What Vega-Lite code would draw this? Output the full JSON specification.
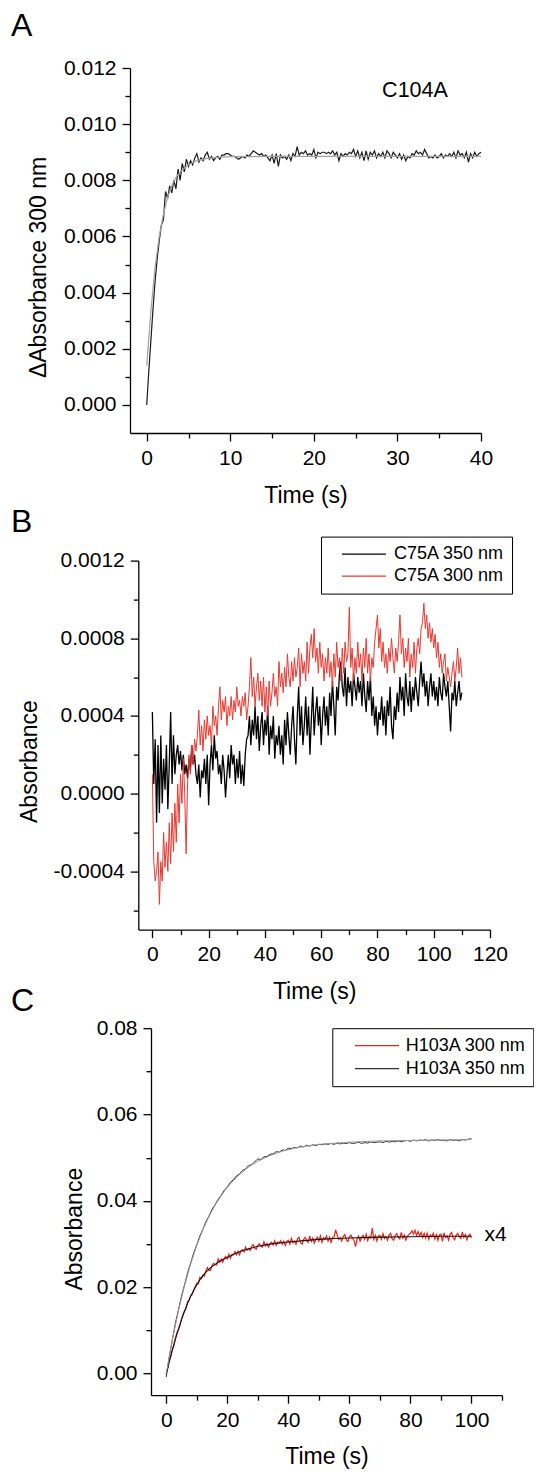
{
  "$schema": "https://vega.github.io/schema/vega-lite/v6.json",
  "background": "white",
  "padding": {"left": 11, "top": 10, "right": 0, "bottom": 0},
  "spacing": -18.4,
  "resolve": {"scale": {"color": "independent"}, "legend": {"color": "independent"}},
  "config": {
    "view": {"stroke": null},
    "font": "Liberation Sans",
    "axis": {"grid": false, "domainColor": "#000", "domainWidth": 1.3, "tickColor": "#000", "tickWidth": 1.3, "tickSize": 8, "labelPadding": 6, "labelFontSize": 21, "labelColor": "#000", "labelFont": "Liberation Sans", "titleFont": "Liberation Sans", "titleFontSize": 23, "titleFontWeight": "normal", "titleColor": "#000", "labelFlush": false, "labelOverlap": false},
    "title": {"fontSize": 32, "fontWeight": "normal", "anchor": "start", "frame": "group", "color": "#000", "font": "Liberation Sans"},
    "legend": {"labelFont": "Liberation Sans", "labelFontSize": 18, "labelColor": "#000", "strokeColor": "#000", "fillColor": "#fff", "symbolType": "stroke", "symbolSize": 1936, "symbolStrokeWidth": 1.3, "rowPadding": 2, "labelBaseline": "middle"}
  },
  "datasets": {
    "a": [
      {"t":0,"v":0},{"t":0.25,"v":0.0012},{"t":0.5,"v":0.0023},{"t":0.75,"v":0.0034},{"t":1,"v":0.0044},{"t":1.25,"v":0.0052},{"t":1.5,"v":0.00585},{"t":1.75,"v":0.0064},{"t":2,"v":0.0066},{"t":2.25,"v":0.0076},{"t":2.5,"v":0.00735},{"t":2.75,"v":0.0078},{"t":3,"v":0.00755},{"t":3.25,"v":0.008},{"t":3.5,"v":0.0077},{"t":3.75,"v":0.0084},{"t":4,"v":0.008},{"t":4.25,"v":0.0086},{"t":4.5,"v":0.0083},{"t":4.75,"v":0.00875},{"t":5,"v":0.0085},{"t":5.25,"v":0.0087},{"t":5.5,"v":0.00855},{"t":5.75,"v":0.0088},{"t":6,"v":0.00895},{"t":6.25,"v":0.00865},{"t":6.5,"v":0.0088},{"t":6.75,"v":0.0087},{"t":7,"v":0.0089},{"t":7.25,"v":0.009},{"t":7.5,"v":0.00875},{"t":7.75,"v":0.00885},{"t":8,"v":0.0087},{"t":8.25,"v":0.0088},{"t":8.5,"v":0.00885},{"t":8.75,"v":0.00875},{"t":9,"v":0.0089},{"t":9.25,"v":0.0089},{"t":9.5,"v":0.00895},{"t":9.75,"v":0.00895},
      {"t":10,"v":0.0089},{"t":10.25,"v":0.00885},{"t":10.5,"v":0.00885},{"t":10.75,"v":0.0088},{"t":11,"v":0.00875},{"t":11.25,"v":0.0088},{"t":11.5,"v":0.00885},{"t":11.75,"v":0.0088},{"t":12,"v":0.0089},{"t":12.25,"v":0.00885},{"t":12.5,"v":0.00895},{"t":12.75,"v":0.00905},{"t":13,"v":0.009},{"t":13.25,"v":0.00895},{"t":13.5,"v":0.0089},{"t":13.75,"v":0.00895},{"t":14,"v":0.00885},{"t":14.25,"v":0.0089},{"t":14.5,"v":0.0088},{"t":14.75,"v":0.0087},{"t":15,"v":0.0089},{"t":15.25,"v":0.0086},{"t":15.5,"v":0.00895},{"t":15.75,"v":0.0085},{"t":16,"v":0.0089},{"t":16.25,"v":0.0088},{"t":16.5,"v":0.00885},{"t":16.75,"v":0.00875},{"t":17,"v":0.0089},{"t":17.25,"v":0.0087},{"t":17.5,"v":0.00895},{"t":17.75,"v":0.00885},{"t":18,"v":0.0092},{"t":18.25,"v":0.0089},{"t":18.5,"v":0.009},{"t":18.75,"v":0.00895},{"t":19,"v":0.00905},{"t":19.25,"v":0.0089},{"t":19.5,"v":0.00895},{"t":19.75,"v":0.0089},
      {"t":20,"v":0.0091},{"t":20.25,"v":0.0088},{"t":20.5,"v":0.009},{"t":20.75,"v":0.00895},{"t":21,"v":0.009},{"t":21.25,"v":0.009},{"t":21.5,"v":0.00895},{"t":21.75,"v":0.009},{"t":22,"v":0.00895},{"t":22.25,"v":0.00905},{"t":22.5,"v":0.0089},{"t":22.75,"v":0.009},{"t":23,"v":0.0087},{"t":23.25,"v":0.00895},{"t":23.5,"v":0.00885},{"t":23.75,"v":0.00895},{"t":24,"v":0.0089},{"t":24.25,"v":0.009},{"t":24.5,"v":0.00895},{"t":24.75,"v":0.0091},{"t":25,"v":0.00885},{"t":25.25,"v":0.00905},{"t":25.5,"v":0.0088},{"t":25.75,"v":0.009},{"t":26,"v":0.0087},{"t":26.25,"v":0.00905},{"t":26.5,"v":0.00875},{"t":26.75,"v":0.009},{"t":27,"v":0.0089},{"t":27.25,"v":0.00905},{"t":27.5,"v":0.0088},{"t":27.75,"v":0.00895},{"t":28,"v":0.00885},{"t":28.25,"v":0.009},{"t":28.5,"v":0.0088},{"t":28.75,"v":0.00905},{"t":29,"v":0.00895},{"t":29.25,"v":0.0088},{"t":29.5,"v":0.009},{"t":29.75,"v":0.0089},
      {"t":30,"v":0.0088},{"t":30.25,"v":0.00895},{"t":30.5,"v":0.00875},{"t":30.75,"v":0.0089},{"t":31,"v":0.0087},{"t":31.25,"v":0.00885},{"t":31.5,"v":0.0088},{"t":31.75,"v":0.00895},{"t":32,"v":0.0089},{"t":32.25,"v":0.00905},{"t":32.5,"v":0.00895},{"t":32.75,"v":0.009},{"t":33,"v":0.0089},{"t":33.25,"v":0.0091},{"t":33.5,"v":0.00895},{"t":33.75,"v":0.0088},{"t":34,"v":0.00885},{"t":34.25,"v":0.0088},{"t":34.5,"v":0.0089},{"t":34.75,"v":0.0088},{"t":35,"v":0.00885},{"t":35.25,"v":0.00895},{"t":35.5,"v":0.0088},{"t":35.75,"v":0.0089},{"t":36,"v":0.00885},{"t":36.25,"v":0.00895},{"t":36.5,"v":0.00885},{"t":36.75,"v":0.009},{"t":37,"v":0.0088},{"t":37.25,"v":0.00905},{"t":37.5,"v":0.0089},{"t":37.75,"v":0.00895},{"t":38,"v":0.0088},{"t":38.25,"v":0.009},{"t":38.5,"v":0.00865},{"t":38.75,"v":0.00895},{"t":39,"v":0.0088},{"t":39.25,"v":0.009},{"t":39.5,"v":0.00885},{"t":39.75,"v":0.00895},{"t":40,"v":0.009}
    ],
    "af": [
      {"t":0,"v":0.0014},{"t":0.5,"v":0.00335},{"t":1,"v":0.0049},{"t":1.5,"v":0.006},{"t":2,"v":0.0068},{"t":2.5,"v":0.0074},{"t":3,"v":0.0078},{"t":3.5,"v":0.0081},{"t":4,"v":0.0083},{"t":5,"v":0.00855},{"t":6,"v":0.0087},{"t":7,"v":0.00877},{"t":8,"v":0.00881},{"t":10,"v":0.00884},{"t":15,"v":0.00885},{"t":40,"v":0.00885}
    ],
    "b": [
      {"t":0,"k":0.00042,"r":0.0001},{"t":0.5,"k":0.00005,"r":-0.00035},{"t":1,"k":0.00028,"r":-0.00045},{"t":1.5,"k":-0.00015,"r":-0.0004},{"t":2,"k":0.00025,"r":-0.0003},{"t":2.5,"k":-0.0001,"r":-0.00057},{"t":3,"k":0.0003,"r":-0.00035},{"t":3.5,"k":-0.00005,"r":-0.00045},{"t":4,"k":0.00018,"r":-0.0002},{"t":4.5,"k":0.00002,"r":-0.00038},
      {"t":5,"k":0.00025,"r":-0.00025},{"t":5.5,"k":-0.00008,"r":-0.0004},{"t":6,"k":0.00015,"r":-0.00015},{"t":6.5,"k":0.00042,"r":-0.00036},{"t":7,"k":0.00005,"r":-0.0001},{"t":7.5,"k":0.0003,"r":-0.0003},{"t":8,"k":0.0001,"r":-0.00005},{"t":8.5,"k":0.0002,"r":-0.00025},{"t":9,"k":0.00025,"r":0.00005},{"t":9.5,"k":0.00015,"r":-0.00015},
      {"t":10,"k":0.00022,"r":0.0001},{"t":10.5,"k":0.00012,"r":-0.00005},{"t":11,"k":0.0002,"r":0.00018},{"t":11.5,"k":0.0001,"r":0},{"t":12,"k":0.00015,"r":-0.00031},{"t":12.5,"k":0.00008,"r":0.00005},{"t":13,"k":0.00018,"r":0.0002},{"t":13.5,"k":0.00012,"r":0.0001},{"t":14,"k":0.00025,"r":0.00025},{"t":14.5,"k":0.00015,"r":0.00015},
      {"t":15,"k":0.0002,"r":0.00028},{"t":15.5,"k":0.0001,"r":0.00022},{"t":16,"k":0.00005,"r":0.0003},{"t":16.5,"k":0.00015,"r":0.00043},{"t":17,"k":-0.00002,"r":0.00025},{"t":17.5,"k":0.00012,"r":0.00035},{"t":18,"k":0.00008,"r":0.00022},{"t":18.5,"k":0.00018,"r":0.00038},{"t":19,"k":0.00005,"r":0.00028},{"t":19.5,"k":0.0002,"r":0.0004},
      {"t":20,"k":-0.00006,"r":0.0003},{"t":20.5,"k":0.00015,"r":0.00035},{"t":21,"k":0.00025,"r":0.00025},{"t":21.5,"k":0.00012,"r":0.00045},{"t":22,"k":0.0003,"r":0.00035},{"t":22.5,"k":0.00018,"r":0.0004},{"t":23,"k":0.00022,"r":0.0003},{"t":23.5,"k":0.0001,"r":0.00045},{"t":24,"k":0.00015,"r":0.00055},{"t":24.5,"k":0.00005,"r":0.00038},
      {"t":25,"k":0.0002,"r":0.00048},{"t":25.5,"k":0.00012,"r":0.00042},{"t":26,"k":-0.00002,"r":0.0005},{"t":26.5,"k":0.0001,"r":0.00035},{"t":27,"k":0.0002,"r":0.00045},{"t":27.5,"k":0.00008,"r":0.0004},{"t":28,"k":0.00025,"r":0.0005},{"t":28.5,"k":0.00015,"r":0.00038},{"t":29,"k":0.0002,"r":0.00048},{"t":29.5,"k":0.00005,"r":0.00042},
      {"t":30,"k":0.00018,"r":0.00055},{"t":30.5,"k":0.00008,"r":0.00045},{"t":31,"k":0.00022,"r":0.00048},{"t":31.5,"k":0.00005,"r":0.0004},{"t":32,"k":0.00015,"r":0.0005},{"t":32.5,"k":0.00004,"r":0.00045},{"t":33,"k":0.0002,"r":0.00052},{"t":33.5,"k":0.00028,"r":0.00038},{"t":34,"k":0.0003,"r":0.00045},{"t":34.5,"k":0.0004,"r":0.00055},
      {"t":35,"k":0.00025,"r":0.0007},{"t":35.5,"k":0.00038,"r":0.0005},{"t":36,"k":0.0003,"r":0.0006},{"t":36.5,"k":0.00045,"r":0.00045},{"t":37,"k":0.00028,"r":0.00055},{"t":37.5,"k":0.0004,"r":0.00062},{"t":38,"k":0.00022,"r":0.00048},{"t":38.5,"k":0.00035,"r":0.00058},{"t":39,"k":0.00042,"r":0.00045},{"t":39.5,"k":0.00025,"r":0.0006},
      {"t":40,"k":0.00038,"r":0.00042},{"t":40.5,"k":0.0003,"r":0.00055},{"t":41,"k":0.00045,"r":0.0004},{"t":41.5,"k":0.0002,"r":0.00058},{"t":42,"k":0.00035,"r":0.00045},{"t":42.5,"k":0.00028,"r":0.00052},{"t":43,"k":0.0004,"r":0.00062},{"t":43.5,"k":0.00018,"r":0.0005},{"t":44,"k":0.0003,"r":0.00055},{"t":44.5,"k":0.00025,"r":0.00045},
      {"t":45,"k":0.00035,"r":0.00068},{"t":45.5,"k":0.0002,"r":0.00055},{"t":46,"k":0.0003,"r":0.00062},{"t":46.5,"k":0.00015,"r":0.00052},{"t":47,"k":0.00038,"r":0.00065},{"t":47.5,"k":0.00025,"r":0.00055},{"t":48,"k":0.00042,"r":0.00072},{"t":48.5,"k":0.0003,"r":0.0006},{"t":49,"k":0.0002,"r":0.00055},{"t":49.5,"k":0.00035,"r":0.00068},
      {"t":50,"k":0.00045,"r":0.00058},{"t":50.5,"k":0.00028,"r":0.0007},{"t":51,"k":0.00015,"r":0.0006},{"t":51.5,"k":0.0004,"r":0.00065},{"t":52,"k":0.00055,"r":0.00075},{"t":52.5,"k":0.0003,"r":0.00055},{"t":53,"k":0.00045,"r":0.00072},{"t":53.5,"k":0.00025,"r":0.00062},{"t":54,"k":0.00035,"r":0.00068},{"t":54.5,"k":0.0005,"r":0.00058},
      {"t":55,"k":0.0003,"r":0.00078},{"t":55.5,"k":0.00045,"r":0.00062},{"t":56,"k":0.0002,"r":0.00075},{"t":56.5,"k":0.00038,"r":0.00082},{"t":57,"k":0.00055,"r":0.0007},{"t":57.5,"k":0.0003,"r":0.00085},{"t":58,"k":0.00042,"r":0.00068},{"t":58.5,"k":0.0005,"r":0.00075},{"t":59,"k":0.00035,"r":0.00062},{"t":59.5,"k":0.00045,"r":0.00078},
      {"t":60,"k":0.00025,"r":0.00065},{"t":60.5,"k":0.0004,"r":0.00072},{"t":61,"k":0.0005,"r":0.00058},{"t":61.5,"k":0.00035,"r":0.0007},{"t":62,"k":0.00045,"r":0.00062},{"t":62.5,"k":0.0003,"r":0.00075},{"t":63,"k":0.00052,"r":0.0006},{"t":63.5,"k":0.0004,"r":0.00068},{"t":64,"k":0.00058,"r":0.00055},{"t":64.5,"k":0.00045,"r":0.00072},
      {"t":65,"k":0.0003,"r":0.0006},{"t":65.5,"k":0.00055,"r":0.00078},{"t":66,"k":0.00048,"r":0.00065},{"t":66.5,"k":0.00062,"r":0.0007},{"t":67,"k":0.00068,"r":0.00058},{"t":67.5,"k":0.00055,"r":0.00075},{"t":68,"k":0.0005,"r":0.00062},{"t":68.5,"k":0.00065,"r":0.00078},{"t":69,"k":0.00045,"r":0.00068},{"t":69.5,"k":0.0006,"r":0.00072},
      {"t":70,"k":0.00052,"r":0.00096},{"t":70.5,"k":0.00058,"r":0.00065},{"t":71,"k":0.00045,"r":0.00075},{"t":71.5,"k":0.00062,"r":0.00058},{"t":72,"k":0.00055,"r":0.0007},{"t":72.5,"k":0.00048,"r":0.00062},{"t":73,"k":0.0006,"r":0.00078},{"t":73.5,"k":0.00052,"r":0.00065},{"t":74,"k":0.00058,"r":0.00072},{"t":74.5,"k":0.00045,"r":0.00058},
      {"t":75,"k":0.00062,"r":0.00075},{"t":75.5,"k":0.0005,"r":0.00065},{"t":76,"k":0.00042,"r":0.0008},{"t":76.5,"k":0.00058,"r":0.00062},{"t":77,"k":0.00048,"r":0.00072},{"t":77.5,"k":0.0006,"r":0.00058},{"t":78,"k":0.0004,"r":0.0007},{"t":78.5,"k":0.0005,"r":0.00065},{"t":79,"k":0.00035,"r":0.00078},{"t":79.5,"k":0.00045,"r":0.00085},
      {"t":80,"k":0.0003,"r":0.00092},{"t":80.5,"k":0.00042,"r":0.00075},{"t":81,"k":0.00038,"r":0.00085},{"t":81.5,"k":0.0005,"r":0.00068},{"t":82,"k":0.00035,"r":0.00078},{"t":82.5,"k":0.00045,"r":0.00065},{"t":83,"k":0.0003,"r":0.00072},{"t":83.5,"k":0.00048,"r":0.00062},{"t":84,"k":0.0004,"r":0.00075},{"t":84.5,"k":0.00055,"r":0.00068},
      {"t":85,"k":0.00035,"r":0.0008},{"t":85.5,"k":0.00028,"r":0.0007},{"t":86,"k":0.00045,"r":0.00062},{"t":86.5,"k":0.00038,"r":0.00075},{"t":87,"k":0.00052,"r":0.00068},{"t":87.5,"k":0.00042,"r":0.00078},{"t":88,"k":0.0006,"r":0.00092},{"t":88.5,"k":0.00048,"r":0.00072},{"t":89,"k":0.00055,"r":0.0008},{"t":89.5,"k":0.0004,"r":0.00065},
      {"t":90,"k":0.00062,"r":0.00075},{"t":90.5,"k":0.0005,"r":0.00068},{"t":91,"k":0.00045,"r":0.0008},{"t":91.5,"k":0.00058,"r":0.0006},{"t":92,"k":0.00042,"r":0.00072},{"t":92.5,"k":0.00055,"r":0.00065},{"t":93,"k":0.00048,"r":0.00078},{"t":93.5,"k":0.0006,"r":0.00062},{"t":94,"k":0.00052,"r":0.00075},{"t":94.5,"k":0.00045,"r":0.0008},
      {"t":95,"k":0.00058,"r":0.00072},{"t":95.5,"k":0.00068,"r":0.00085},{"t":96,"k":0.00055,"r":0.00088},{"t":96.5,"k":0.00062,"r":0.00098},{"t":97,"k":0.0005,"r":0.00085},{"t":97.5,"k":0.00058,"r":0.00092},{"t":98,"k":0.00045,"r":0.0008},{"t":98.5,"k":0.00055,"r":0.00088},{"t":99,"k":0.00062,"r":0.00078},{"t":99.5,"k":0.0005,"r":0.00085},
      {"t":100,"k":0.00058,"r":0.00075},{"t":100.5,"k":0.00048,"r":0.00082},{"t":101,"k":0.00055,"r":0.0007},{"t":101.5,"k":0.00045,"r":0.00078},{"t":102,"k":0.0006,"r":0.00065},{"t":102.5,"k":0.00052,"r":0.00072},{"t":103,"k":0.00048,"r":0.00062},{"t":103.5,"k":0.00062,"r":0.00068},{"t":104,"k":0.00055,"r":0.00072},{"t":104.5,"k":0.0005,"r":0.00058},
      {"t":105,"k":0.00058,"r":0.00065},{"t":105.5,"k":0.00045,"r":0.0006},{"t":106,"k":0.00032,"r":0.00055},{"t":106.5,"k":0.00052,"r":0.00062},{"t":107,"k":0.00048,"r":0.00068},{"t":107.5,"k":0.00058,"r":0.00058},{"t":108,"k":0.00045,"r":0.00065},{"t":108.5,"k":0.00052,"r":0.00075},{"t":109,"k":0.00058,"r":0.00062},{"t":109.5,"k":0.00048,"r":0.0007},{"t":110,"k":0.00052,"r":0.0006}
    ],
    "cr": [
      {"t":0,"v":0},{"t":0.5,"v":0.0012},{"t":1,"v":0.0031},{"t":1.5,"v":0.00405},{"t":2,"v":0.0056},{"t":2.5,"v":0.0065},{"t":3,"v":0.0082},{"t":3.5,"v":0.0095},{"t":4,"v":0.01015},{"t":4.5,"v":0.0111},{"t":5,"v":0.0126},{"t":5.5,"v":0.01375},{"t":6,"v":0.01445},{"t":6.5,"v":0.0152},{"t":7,"v":0.0167},{"t":7.5,"v":0.017},{"t":8,"v":0.01805},{"t":8.5,"v":0.0183},{"t":9,"v":0.01935},{"t":9.5,"v":0.02015},
      {"t":10,"v":0.0209},{"t":10.5,"v":0.02075},{"t":11,"v":0.0223},{"t":11.5,"v":0.022},{"t":12,"v":0.0228},{"t":12.5,"v":0.0226},{"t":13,"v":0.0239},{"t":13.5,"v":0.02455},{"t":14,"v":0.0239},{"t":14.5,"v":0.0239},{"t":15,"v":0.025},{"t":15.5,"v":0.02555},{"t":16,"v":0.0252},{"t":16.5,"v":0.02515},{"t":17,"v":0.0266},{"t":17.5,"v":0.0258},{"t":18,"v":0.0265},{"t":18.5,"v":0.0258},{"t":19,"v":0.0267},{"t":19.5,"v":0.02715},
      {"t":20,"v":0.0266},{"t":20.5,"v":0.0277},{"t":21,"v":0.02675},{"t":21.5,"v":0.0276},{"t":22,"v":0.0275},{"t":22.5,"v":0.02825},{"t":23,"v":0.0275},{"t":23.5,"v":0.02835},{"t":24,"v":0.0275},{"t":24.5,"v":0.0285},{"t":25,"v":0.02875},{"t":25.5,"v":0.0282},{"t":26,"v":0.0293},{"t":26.5,"v":0.0286},{"t":27,"v":0.029},{"t":27.5,"v":0.0285},{"t":28,"v":0.0295},{"t":28.5,"v":0.0299},{"t":29,"v":0.029},{"t":29.5,"v":0.0288},
      {"t":30,"v":0.0297},{"t":30.5,"v":0.0301},{"t":31,"v":0.0295},{"t":31.5,"v":0.0293},{"t":32,"v":0.03055},{"t":32.5,"v":0.0296},{"t":33,"v":0.03015},{"t":33.5,"v":0.0293},{"t":34,"v":0.0301},{"t":34.5,"v":0.03045},{"t":35,"v":0.0298},{"t":35.5,"v":0.03075},{"t":36,"v":0.0297},{"t":36.5,"v":0.03045},{"t":37,"v":0.0302},{"t":37.5,"v":0.0308},{"t":38,"v":0.02995},{"t":38.5,"v":0.0307},{"t":39,"v":0.0297},{"t":39.5,"v":0.03065},
      {"t":40,"v":0.0309},{"t":40.5,"v":0.03},{"t":41,"v":0.03135},{"t":41.5,"v":0.0303},{"t":42,"v":0.0307},{"t":42.5,"v":0.02995},{"t":43,"v":0.0312},{"t":43.5,"v":0.0316},{"t":44,"v":0.03035},{"t":44.5,"v":0.03},{"t":45,"v":0.0311},{"t":45.5,"v":0.03153},{"t":46,"v":0.03075},{"t":46.5,"v":0.0304},{"t":47,"v":0.0319},{"t":47.5,"v":0.0306},{"t":48,"v":0.0314},{"t":48.5,"v":0.0302},{"t":49,"v":0.03115},{"t":49.5,"v":0.0316},
      {"t":50,"v":0.0307},{"t":50.5,"v":0.0319},{"t":51,"v":0.0304},{"t":51.5,"v":0.0315},{"t":52,"v":0.0311},{"t":52.5,"v":0.0319},{"t":53,"v":0.0307},{"t":53.5,"v":0.0316},{"t":54,"v":0.0304},{"t":54.5,"v":0.0316},{"t":55,"v":0.0317},{"t":55.5,"v":0.0333},{"t":56,"v":0.0321},{"t":56.5,"v":0.03105},{"t":57,"v":0.0315},{"t":57.5,"v":0.0307},{"t":58,"v":0.0318},{"t":58.5,"v":0.0322},{"t":59,"v":0.031},{"t":59.5,"v":0.0306},
      {"t":60,"v":0.0317},{"t":60.5,"v":0.0321},{"t":61,"v":0.0313},{"t":61.5,"v":0.0309},{"t":62,"v":0.0294},{"t":62.5,"v":0.0312},{"t":63,"v":0.0319},{"t":63.5,"v":0.0307},{"t":64,"v":0.0316},{"t":64.5,"v":0.032},{"t":65,"v":0.0311},{"t":65.5,"v":0.0323},{"t":66,"v":0.0308},{"t":66.5,"v":0.0318},{"t":67,"v":0.0314},{"t":67.5,"v":0.0337},{"t":68,"v":0.0311},{"t":68.5,"v":0.032},{"t":69,"v":0.0307},{"t":69.5,"v":0.0319},
      {"t":70,"v":0.032},{"t":70.5,"v":0.0311},{"t":71,"v":0.0324},{"t":71.5,"v":0.0313},{"t":72,"v":0.0317},{"t":72.5,"v":0.0309},{"t":73,"v":0.0321},{"t":73.5,"v":0.0325},{"t":74,"v":0.0312},{"t":74.5,"v":0.0309},{"t":75,"v":0.032},{"t":75.5,"v":0.0324},{"t":76,"v":0.0316},{"t":76.5,"v":0.0312},{"t":77,"v":0.0327},{"t":77.5,"v":0.0314},{"t":78,"v":0.0321},{"t":78.5,"v":0.0309},{"t":79,"v":0.0318},{"t":79.5,"v":0.0322},
      {"t":80,"v":0.0325},{"t":80.5,"v":0.0331},{"t":81,"v":0.0323},{"t":81.5,"v":0.0332},{"t":82,"v":0.032},{"t":82.5,"v":0.0329},{"t":83,"v":0.0319},{"t":83.5,"v":0.0327},{"t":84,"v":0.0315},{"t":84.5,"v":0.0325},{"t":85,"v":0.03135},{"t":85.5,"v":0.03255},{"t":86,"v":0.0311},{"t":86.5,"v":0.0321},{"t":87,"v":0.0317},{"t":87.5,"v":0.0325},{"t":88,"v":0.0312},{"t":88.5,"v":0.0322},{"t":89,"v":0.0309},{"t":89.5,"v":0.0321},
      {"t":90,"v":0.0323},{"t":90.5,"v":0.0306},{"t":91,"v":0.0326},{"t":91.5,"v":0.0315},{"t":92,"v":0.0319},{"t":92.5,"v":0.0309},{"t":93,"v":0.0323},{"t":93.5,"v":0.0327},{"t":94,"v":0.0314},{"t":94.5,"v":0.031},{"t":95,"v":0.0321},{"t":95.5,"v":0.0325},{"t":96,"v":0.0317},{"t":96.5,"v":0.0313},{"t":97,"v":0.0328},{"t":97.5,"v":0.0315},{"t":98,"v":0.0322},{"t":98.5,"v":0.031},{"t":99,"v":0.0319},{"t":99.5,"v":0.0323},{"t":100,"v":0.0314}
    ],
    "ck": [
      {"t":0,"v":-0.0008},{"t":1,"v":0.004},{"t":2,"v":0.0079},{"t":3,"v":0.0117},{"t":4,"v":0.0148},{"t":5,"v":0.018},{"t":6,"v":0.0206},{"t":7,"v":0.0234},{"t":8,"v":0.0256},{"t":9,"v":0.028},{"t":10,"v":0.0298},{"t":11,"v":0.0319},{"t":12,"v":0.0334},{"t":13,"v":0.0352},{"t":14,"v":0.0365},{"t":15,"v":0.0381},{"t":16,"v":0.0391},{"t":17,"v":0.0404},{"t":18,"v":0.0413},{"t":19,"v":0.0425},
      {"t":20,"v":0.0432},{"t":21,"v":0.0443},{"t":22,"v":0.0449},{"t":23,"v":0.0458},{"t":24,"v":0.0462},{"t":25,"v":0.0471},{"t":26,"v":0.0474},{"t":27,"v":0.0482},{"t":28,"v":0.0484},{"t":29,"v":0.0491},{"t":30,"v":0.0497},{"t":31,"v":0.0496},{"t":32,"v":0.0502},{"t":33,"v":0.0503},{"t":34,"v":0.0508},{"t":35,"v":0.0509},{"t":36,"v":0.0514},{"t":37,"v":0.0513},{"t":38,"v":0.0518},{"t":39,"v":0.0517},
      {"t":40,"v":0.0522},{"t":41,"v":0.0521},{"t":42,"v":0.0524},{"t":43,"v":0.0523},{"t":44,"v":0.0527},{"t":45,"v":0.0525},{"t":46,"v":0.0529},{"t":47,"v":0.0527},{"t":48,"v":0.053},{"t":49,"v":0.0528},{"t":50,"v":0.0531},{"t":51,"v":0.053},{"t":52,"v":0.0532},{"t":53,"v":0.0531},{"t":54,"v":0.0533},{"t":55,"v":0.0531},{"t":56,"v":0.0534},{"t":57,"v":0.0532},{"t":58,"v":0.0534},{"t":59,"v":0.0533},
      {"t":60,"v":0.0535},{"t":61,"v":0.0533},{"t":62,"v":0.0534},{"t":63,"v":0.0536},{"t":64,"v":0.0533},{"t":65,"v":0.0535},{"t":66,"v":0.0534},{"t":67,"v":0.0537},{"t":68,"v":0.0535},{"t":69,"v":0.0536},{"t":70,"v":0.0537},{"t":71,"v":0.0535},{"t":72,"v":0.0538},{"t":73,"v":0.0536},{"t":74,"v":0.0538},{"t":75,"v":0.0537},{"t":76,"v":0.0539},{"t":77,"v":0.0537},{"t":78,"v":0.0539},{"t":79,"v":0.054},
      {"t":80,"v":0.0538},{"t":81,"v":0.0541},{"t":82,"v":0.0539},{"t":83,"v":0.0541},{"t":84,"v":0.054},{"t":85,"v":0.0542},{"t":86,"v":0.0539},{"t":87,"v":0.0541},{"t":88,"v":0.054},{"t":89,"v":0.0542},{"t":90,"v":0.054},{"t":91,"v":0.0541},{"t":92,"v":0.0539},{"t":93,"v":0.0542},{"t":94,"v":0.054},{"t":95,"v":0.0541},{"t":96,"v":0.0539},{"t":97,"v":0.0542},{"t":98,"v":0.0541},{"t":99,"v":0.0543},{"t":100,"v":0.0544}
    ],
    "crf": [
      {"t":0,"v":0},{"t":1,"v":0.0028},{"t":2,"v":0.0055},{"t":3,"v":0.008},{"t":4,"v":0.0103},{"t":5,"v":0.0125},{"t":6,"v":0.0145},{"t":7,"v":0.0163},{"t":8,"v":0.0179},{"t":9,"v":0.0193},{"t":10,"v":0.0206},{"t":11,"v":0.0217},{"t":12,"v":0.0227},{"t":13,"v":0.0235},{"t":14,"v":0.0242},{"t":15,"v":0.0248},{"t":16,"v":0.0253},{"t":17,"v":0.0258},{"t":18,"v":0.0262},{"t":19,"v":0.0266},{"t":20,"v":0.0269},{"t":22,"v":0.0276},{"t":24,"v":0.0282},{"t":26,"v":0.0287},{"t":28,"v":0.0291},{"t":30,"v":0.0295},{"t":35,"v":0.0301},{"t":40,"v":0.0305},{"t":45,"v":0.0308},{"t":50,"v":0.0311},{"t":55,"v":0.0313},{"t":60,"v":0.0314},{"t":70,"v":0.0316},{"t":80,"v":0.0317},{"t":90,"v":0.0318},{"t":100,"v":0.0318}
    ],
    "ckf": [
      {"t":0,"v":0},{"t":2,"v":0.0078},{"t":4,"v":0.0146},{"t":6,"v":0.0204},{"t":8,"v":0.0254},{"t":10,"v":0.0297},{"t":12,"v":0.0333},{"t":14,"v":0.0364},{"t":16,"v":0.039},{"t":18,"v":0.0412},{"t":20,"v":0.0431},{"t":22,"v":0.0447},{"t":24,"v":0.0461},{"t":26,"v":0.0473},{"t":28,"v":0.0483},{"t":30,"v":0.0492},{"t":34,"v":0.0505},{"t":38,"v":0.0515},{"t":42,"v":0.0522},{"t":46,"v":0.0527},{"t":50,"v":0.0531},{"t":60,"v":0.0536},{"t":70,"v":0.0539},{"t":80,"v":0.054},{"t":90,"v":0.0541},{"t":100,"v":0.0542}
    ]
  },
  "vconcat": [
    {
      "width": 351, "height": 365,
      "title": {"text": "A", "dx": -119, "offset": 13.7},
      "resolve": {"axis": {"x": "independent", "y": "independent"}},
      "layer": [
        {
          "data": {"name": "a"},
          "mark": {"type": "line", "color": "#1a1a1a", "strokeWidth": 1.2},
          "encoding": {
            "x": {"field": "t", "type": "quantitative", "scale": {"domain": [-2, 40], "nice": false, "zero": false},
                  "axis": {"orient": "bottom", "values": [0, 10, 20, 30, 40], "format": "d", "title": ["Time (s)", ""], "titleLineHeight": 17, "titleY": 69, "titleBaseline": "alphabetic"}},
            "y": {"field": "v", "type": "quantitative", "scale": {"domain": [-0.001, 0.012], "nice": false, "zero": false},
                  "axis": {"orient": "left", "values": [0, 0.002, 0.004, 0.006, 0.008, 0.01, 0.012], "format": ".3f", "title": "ΔAbsorbance 300 nm", "titleX": -85, "titleY": 199, "titleBaseline": "alphabetic", "titleAngle": 270}}
          }
        },
        {
          "data": {"name": "af"},
          "mark": {"type": "line", "color": "#a3a3a3", "strokeWidth": 1.2},
          "encoding": {
            "x": {"field": "t", "type": "quantitative", "scale": {"domain": [-2, 40], "nice": false, "zero": false},
                  "axis": {"orient": "bottom", "values": [5, 15, 25, 35], "labels": false, "domain": false, "tickSize": 5, "title": null}},
            "y": {"field": "v", "type": "quantitative", "scale": {"domain": [-0.001, 0.012], "nice": false, "zero": false},
                  "axis": {"orient": "left", "values": [0.001, 0.003, 0.005, 0.007, 0.009, 0.011], "labels": false, "domain": false, "tickSize": 5, "title": null}}
          }
        },
        {
          "data": {"values": [{}]},
          "mark": {"type": "text", "fontSize": 21.5, "font": "Liberation Sans", "align": "center", "baseline": "alphabetic", "color": "#000"},
          "encoding": {
            "x": {"datum": 32.1, "type": "quantitative", "scale": {"domain": [-2, 40], "nice": false, "zero": false}, "axis": null},
            "y": {"datum": 0.01096, "type": "quantitative", "scale": {"domain": [-0.001, 0.012], "nice": false, "zero": false}, "axis": null},
            "text": {"value": "C104A"}
          }
        }
      ]
    },
    {
      "width": 360, "height": 369,
      "title": {"text": "B", "dx": -119, "offset": -2.9},
      "resolve": {"axis": {"x": "independent", "y": "independent"}},
      "data": {"name": "b"},
      "layer": [
        {
          "mark": {"type": "line", "strokeWidth": 1.3},
          "encoding": {
            "x": {"field": "t", "type": "quantitative", "scale": {"domain": [-5, 120], "range": [8.3, 360], "nice": false, "zero": false},
                  "axis": {"orient": "bottom", "values": [0, 20, 40, 60, 80, 100, 120], "format": "d", "title": "Time (s)", "titleY": 69, "titleBaseline": "alphabetic"}},
            "y": {"field": "k", "type": "quantitative", "scale": {"domain": [-0.0007, 0.0012], "nice": false, "zero": false},
                  "axis": {"orient": "left", "offset": -8.3, "values": [-0.0004, 0, 0.0004, 0.0008, 0.0012], "labelExpr": "replace(format(datum.value, '.4f'), '\u2212', '-')", "title": "Absorbance", "titleX": -101.6, "titleY": 200.5, "titleBaseline": "alphabetic", "titleAngle": 270}},
            "color": {"datum": "C75A 350 nm", "type": "nominal",
                      "scale": {"domain": ["C75A 350 nm", "C75A 300 nm"], "range": ["#000000", "#e8382f"]},
                      "legend": {"orient": "none", "legendX": 191, "legendY": -24, "title": null, "padding": 7.5, "clipHeight": 20, "symbolOffset": 12.4, "labelOffset": 7.1}}
          }
        },
        {
          "mark": {"type": "line", "strokeWidth": 1},
          "encoding": {
            "x": {"field": "t", "type": "quantitative", "scale": {"domain": [-5, 120], "range": [8.3, 360], "nice": false, "zero": false},
                  "axis": {"orient": "bottom", "values": [10, 30, 50, 70, 90, 110], "labels": false, "domain": false, "tickSize": 5, "title": null}},
            "y": {"field": "r", "type": "quantitative", "scale": {"domain": [-0.0007, 0.0012], "nice": false, "zero": false},
                  "axis": {"orient": "left", "offset": -8.3, "values": [-0.0006, -0.0002, 0.0002, 0.0006, 0.001], "labels": false, "domain": false, "tickSize": 5, "title": null}},
            "color": {"datum": "C75A 300 nm", "type": "nominal",
                      "scale": {"domain": ["C75A 350 nm", "C75A 300 nm"], "range": ["#000000", "#e8382f"]}}
          }
        }
      ]
    },
    {
      "width": 372, "height": 367,
      "title": {"text": "C", "dx": -119, "offset": -1},
      "resolve": {"axis": {"x": "independent", "y": "independent"}},
      "layer": [
        {
          "data": {"name": "cr"},
          "mark": {"type": "line", "strokeWidth": 1.2},
          "encoding": {
            "x": {"field": "t", "type": "quantitative", "scale": {"domain": [-5, 110], "range": [21, 372], "nice": false, "zero": false},
                  "axis": {"orient": "bottom", "values": [0, 20, 40, 60, 80, 100], "format": "d", "title": "Time (s)", "titleY": 68, "titleBaseline": "alphabetic"}},
            "y": {"field": "v", "type": "quantitative", "scale": {"domain": [-0.005, 0.08], "nice": false, "zero": false},
                  "axis": {"orient": "left", "offset": -21, "values": [0, 0.02, 0.04, 0.06, 0.08], "format": ".2f", "title": "Absorbance", "titleX": -69.6, "titleY": 200.5, "titleBaseline": "alphabetic", "titleAngle": 270}},
            "color": {"datum": "H103A 300 nm", "type": "nominal",
                      "scale": {"domain": ["H103A 300 nm", "H103A 350 nm"], "range": ["#e8231c", "#333333"]},
                      "legend": {"orient": "none", "legendX": 202.3, "legendY": 0, "title": null, "padding": 7, "clipHeight": 21, "symbolOffset": 14.7, "labelOffset": 5.7}}
          }
        },
        {
          "data": {"name": "ck"},
          "mark": {"type": "line", "strokeWidth": 1},
          "encoding": {
            "x": {"field": "t", "type": "quantitative", "scale": {"domain": [-5, 110], "range": [21, 372], "nice": false, "zero": false},
                  "axis": {"orient": "bottom", "values": [10, 30, 50, 70, 90, 110], "labels": false, "domain": false, "tickSize": 5, "title": null}},
            "y": {"field": "v", "type": "quantitative", "scale": {"domain": [-0.005, 0.08], "nice": false, "zero": false},
                  "axis": {"orient": "left", "offset": -21, "values": [0.01, 0.03, 0.05, 0.07], "labels": false, "domain": false, "tickSize": 5, "title": null}},
            "color": {"datum": "H103A 350 nm", "type": "nominal",
                      "scale": {"domain": ["H103A 300 nm", "H103A 350 nm"], "range": ["#e8231c", "#333333"]}}
          }
        },
        {
          "data": {"name": "crf"},
          "mark": {"type": "line", "strokeWidth": 1.1, "color": "#111111"},
          "encoding": {
            "x": {"field": "t", "type": "quantitative", "scale": {"domain": [-5, 110], "range": [21, 372], "nice": false, "zero": false}, "axis": null},
            "y": {"field": "v", "type": "quantitative", "scale": {"domain": [-0.005, 0.08], "nice": false, "zero": false}, "axis": null}
          }
        },
        {
          "data": {"name": "ckf"},
          "mark": {"type": "line", "strokeWidth": 1, "color": "#9a9a9a"},
          "encoding": {
            "x": {"field": "t", "type": "quantitative", "scale": {"domain": [-5, 110], "range": [21, 372], "nice": false, "zero": false}, "axis": null},
            "y": {"field": "v", "type": "quantitative", "scale": {"domain": [-0.005, 0.08], "nice": false, "zero": false}, "axis": null}
          }
        },
        {
          "data": {"values": [{}]},
          "mark": {"type": "text", "fontSize": 21, "font": "Liberation Sans", "align": "center", "baseline": "middle", "color": "#000"},
          "encoding": {
            "x": {"datum": 107.9, "type": "quantitative", "scale": {"domain": [-5, 110], "range": [21, 372], "nice": false, "zero": false}, "axis": null},
            "y": {"datum": 0.0321, "type": "quantitative", "scale": {"domain": [-0.005, 0.08], "nice": false, "zero": false}, "axis": null},
            "text": {"value": "x4"}
          }
        }
      ]
    }
  ]
}
